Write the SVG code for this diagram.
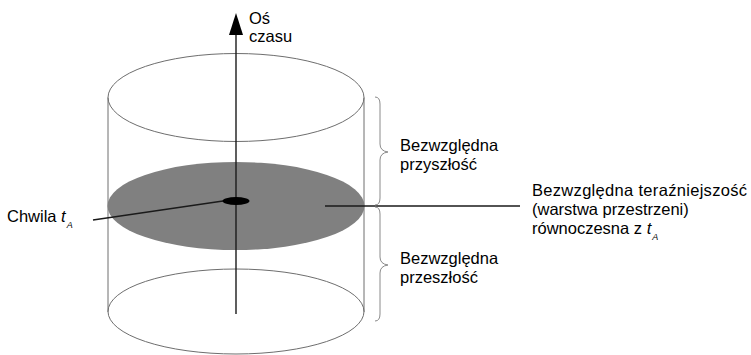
<svg xmlns="http://www.w3.org/2000/svg" width="751" height="355" viewBox="0 0 751 355">
<style>
.ol{fill:none;stroke:#6e6e6e;stroke-width:1}
.br{fill:none;stroke:#8a8a8a;stroke-width:1}
.ln{fill:none;stroke:#1a1a1a;stroke-width:1.4}
text{font-family:"Liberation Sans",Arial,sans-serif;font-size:16.5px;fill:#000}
.it{font-style:italic}
.sub{font-size:9px;font-style:italic}
</style>
<rect width="751" height="355" fill="#fff"/>
<g id="cylinder">
<line class="ol" x1="108" y1="97.5" x2="108" y2="312"/>
<line class="ol" x1="364" y1="97.5" x2="364" y2="312"/>
<ellipse class="ol" cx="236" cy="97.5" rx="128" ry="44"/>
<ellipse class="ol" cx="236" cy="311.5" rx="128" ry="42.5"/>
</g>
<g id="present-layer">
<ellipse cx="236" cy="206" rx="128.5" ry="44" fill="#808080"/>
</g>
<g id="connectors">
<line class="ln" x1="236" y1="34" x2="236" y2="314"/>
<polygon points="236,13 229,35 243,35" fill="#000"/>
<line class="ln" x1="93" y1="220" x2="223" y2="201"/>
<line class="ln" x1="325" y1="206" x2="520" y2="206"/>
</g>
<g id="event">
<ellipse cx="236" cy="201" rx="13.5" ry="4" fill="#000"/>
</g>
<g id="axis-label">
<text x="249" y="24">Oś</text>
<text x="249" y="42">czasu</text>
</g>
<g id="moment-label">
<text x="7" y="222">Chwila <tspan class="it">t</tspan><tspan class="sub" dx="1" dy="6">A</tspan></text>
</g>
<g id="future">
<path class="br" d="M375,97 Q380,97 380,104 L380,144 Q380,151 388,152 Q380,153 380,160 L380,198 Q380,205 375,205"/>
<text x="400" y="151">Bezwzględna</text>
<text x="400" y="170">przyszłość</text>
</g>
<g id="past">
<path class="br" d="M375,207 Q380,207 380,214 L380,257 Q380,264 388,265 Q380,266 380,273 L380,314 Q380,321 375,321"/>
<text x="400" y="264">Bezwzględna</text>
<text x="400" y="283">przeszłość</text>
</g>
<g id="present">
<text x="532" y="196" textLength="215">Bezwzględna teraźniejszość</text>
<text x="532" y="215">(warstwa przestrzeni)</text>
<text x="532" y="234">równoczesna z <tspan class="it">t</tspan><tspan class="sub" dx="1" dy="6">A</tspan></text>
</g>
</svg>
